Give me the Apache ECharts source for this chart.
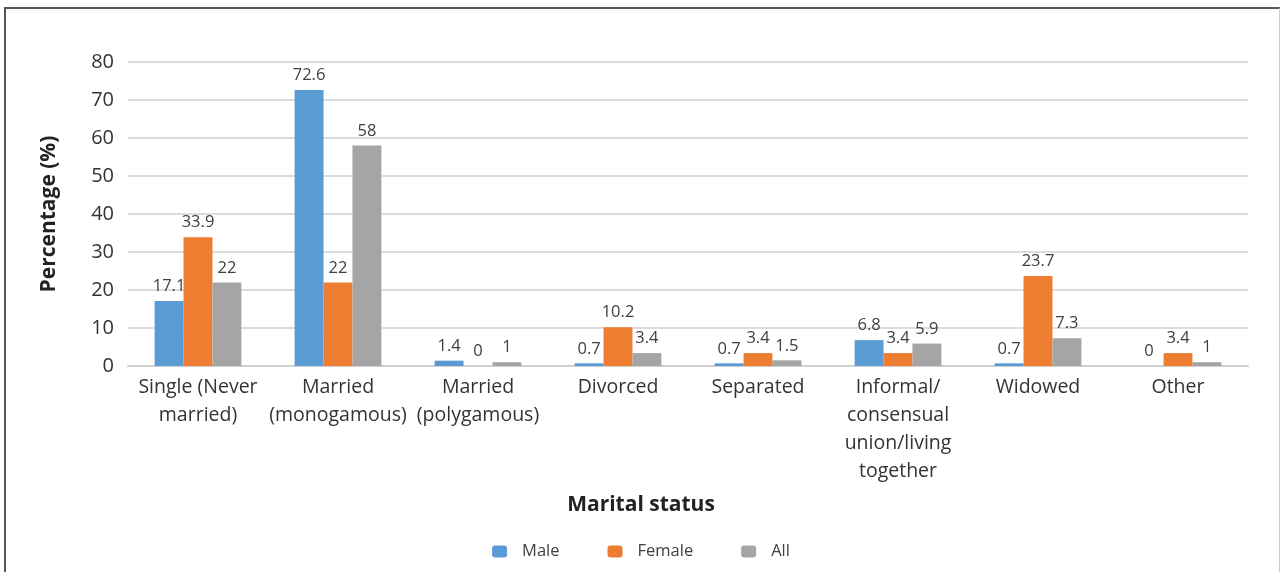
<!DOCTYPE html>
<html><head><meta charset="utf-8">
<script src="https://cdn.jsdelivr.net/npm/echarts@6/dist/echarts.min.js"></script>
<style>html,body{margin:0;padding:0;background:#fff}#c{width:1282px;height:572px;position:relative}
#frame{position:absolute;left:4px;top:7px;width:1276px;height:580px;border-left:2px solid #555;border-top:2px solid #555;border-right:1px solid #ccc;box-sizing:border-box;pointer-events:none}</style>
</head><body><div id="c"></div><div id="frame"></div>
<script>
const categories = ['Single (Never\nmarried)','Married\n(monogamous)','Married\n(polygamous)','Divorced','Separated','Informal/\nconsensual\nunion/living\ntogether','Widowed','Other'];
const male = [17.1,72.6,1.4,0.7,0.7,6.8,0.7,0];
const female = [33.9,22,0,10.2,3.4,3.4,23.7,3.4];
const all = [22,58,1,3.4,1.5,5.9,7.3,1];
const seriesNames = ['Male','Female','All'];
const colors = ['#5b9bd5','#ed7d31','#a5a5a5'];
const FONT = 'Open Sans';
const chart = echarts.init(document.getElementById('c'));
const label = {show:true,position:'top',distance:6,color:'#404040',fontSize:16.5,fontFamily:FONT};
chart.setOption({
  animation:false,
  grid:{left:128,right:34,top:62,bottom:206},
  legend:{bottom:7,left:'center',itemWidth:15,itemHeight:12,itemGap:48,
    textStyle:{color:'#404040',fontSize:16.5,fontFamily:FONT,padding:[0,0,0,10]},
    data:seriesNames},
  graphic:[{type:'text',left:'center',x:-43,top:495,
    style:{text:'Marital status',fill:'#222',font:'bold 21px "Open Sans"',textAlign:'center'}}],
  xAxis:{type:'category',data:categories,
    axisLine:{lineStyle:{color:'#d0d0d0',width:2}},axisTick:{show:false},
    axisLabel:{color:'#333',fontSize:19.5,fontFamily:FONT,lineHeight:28,margin:7,interval:0}},
  yAxis:{type:'value',min:0,max:80,interval:10,
    splitLine:{lineStyle:{color:'#d0d0d0',width:1.5}},axisLine:{show:false},axisTick:{show:false},
    axisLabel:{color:'#333',fontSize:20,fontFamily:FONT,margin:14},
    name:'Percentage (%)',nameLocation:'middle',nameGap:68,
    nameTextStyle:{color:'#222',fontSize:21,fontWeight:'bold',fontFamily:FONT}},
  series:[male,female,all].map((d,i)=>({name:seriesNames[i],type:'bar',data:d,
    barGap:'0%',barCategoryGap:'38%',itemStyle:{color:colors[i]},label:label}))
});
</script></body></html>
